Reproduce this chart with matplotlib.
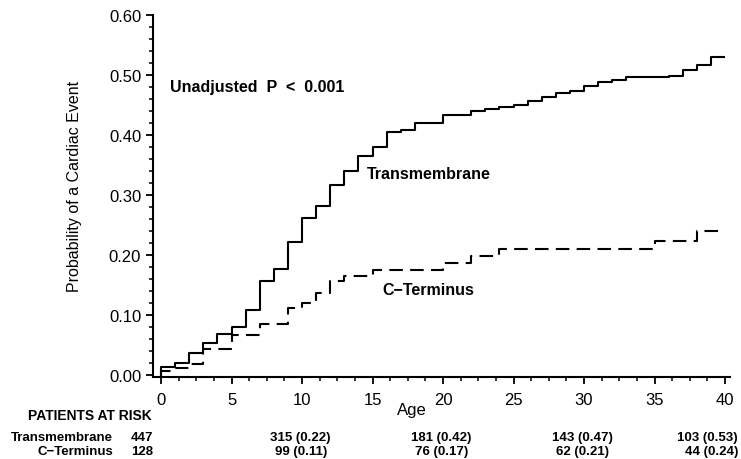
import matplotlib
matplotlib.use("Agg")
import matplotlib.pyplot as plt
import matplotlib.transforms as mtransforms
from matplotlib.ticker import MultipleLocator, FormatStrFormatter

plt.rcParams['font.family'] = ['Liberation Sans', 'DejaVu Sans']

# step start ages and cumulative probability from that age on
tm_ages = [0, 0, 1, 2, 3, 4, 5, 6, 7, 8, 9, 10, 11, 12, 13, 14, 15, 16, 17, 18,
           20, 22, 23, 24, 25, 26, 27, 28, 29, 30, 31, 32, 33, 36, 37, 38, 39, 39.9]
tm_prob = [0.0, 0.013, 0.019, 0.036, 0.053, 0.068, 0.080, 0.108, 0.156, 0.177, 0.221,
           0.262, 0.282, 0.317, 0.339, 0.365, 0.380, 0.405, 0.408, 0.420,
           0.433, 0.440, 0.443, 0.446, 0.450, 0.456, 0.463, 0.470, 0.474, 0.482,
           0.488, 0.492, 0.496, 0.499, 0.509, 0.517, 0.530, 0.530]

ct_ages = [0, 0, 1, 2, 3, 5, 7, 9, 10, 11, 12, 13, 15, 20, 22, 24, 35, 38, 40]
ct_prob = [0.0, 0.006, 0.011, 0.018, 0.043, 0.067, 0.085, 0.111, 0.120, 0.137,
           0.156, 0.165, 0.174, 0.186, 0.198, 0.210, 0.223, 0.240, 0.240]

risk_groups = ['Transmembrane', 'C\u2212Terminus']
risk_ages = [0, 10, 20, 30, 40]
tm_risk = ['447', '315 (0.22)', '181 (0.42)', '143 (0.47)', '103 (0.53)']
ct_risk = ['128', '99 (0.11)', '76 (0.17)', '62 (0.21)', '44 (0.24)']

fig = plt.figure(figsize=(7.41, 4.60), dpi=100)
ax = fig.add_axes([153 / 741, 1 - 377.5 / 460, (730 - 153) / 741, (377.5 - 16) / 460])

ax.step(tm_ages, tm_prob, where='post', color='black', lw=1.5)
ct_line, = ax.step(ct_ages, ct_prob, where='post', color='black', lw=1.5)
ct_line.set_dashes((6.5, 3.5))

ax.set_xlim(-0.57, 40.35)
ax.set_ylim(-0.003, 0.60)
ax.spines['top'].set_visible(False)
ax.spines['right'].set_visible(False)
ax.spines['left'].set_linewidth(1.5)
ax.spines['bottom'].set_linewidth(1.5)

ax.xaxis.set_major_locator(MultipleLocator(5))
ax.xaxis.set_minor_locator(MultipleLocator(1.25))
ax.yaxis.set_major_locator(MultipleLocator(0.10))
ax.yaxis.set_minor_locator(MultipleLocator(0.02))
ax.yaxis.set_major_formatter(FormatStrFormatter('%.2f'))
ax.tick_params(which='major', length=5, width=1.3, labelsize=12)
ax.tick_params(which='minor', length=3, width=1.1)
ax.tick_params(axis='x', which='major', pad=6.5)
ax.tick_params(axis='y', which='major', pad=3.5)

ax.text(0.64, 0.480, 'Unadjusted  P  <  0.001', fontsize=11.5, fontweight='bold',
        ha='left', va='center')
ax.text(14.6, 0.335, 'Transmembrane', fontsize=11.5, fontweight='bold', ha='left', va='center')
ax.text(15.67, 0.142, 'C\u2212Terminus', fontsize=11.5, fontweight='bold', ha='left', va='center')

fig.text(0.1, 1 - 186 / 460, 'Probability of a Cardiac Event', rotation=90,
         fontsize=11.5, ha='center', va='center')
trans = mtransforms.blended_transform_factory(ax.transData, fig.transFigure)
fig.text(17.8, 1 - 411 / 460, 'Age', transform=trans, fontsize=12, ha='center', va='center')

# patients at risk table
fs = 9.5
fig.text(152 / 741, 1 - 416 / 460, 'PATIENTS AT RISK', fontsize=10, fontweight='bold',
         ha='right', va='center')
row_y = [1 - 438 / 460, 1 - 452 / 460]
for name, vals, y in zip(risk_groups, [tm_risk, ct_risk], row_y):
    fig.text(113 / 741, y, name, fontsize=fs, fontweight='bold', ha='right', va='center')
    fig.text(153 / 741, y, vals[0], fontsize=fs, fontweight='bold', ha='right', va='center')
    for age, v in zip(risk_ages[1:4], vals[1:4]):
        fig.text(age - 0.1, y, v, transform=trans, fontsize=fs, fontweight='bold',
                 ha='center', va='center')
    fig.text(738 / 741, y, vals[4], fontsize=fs, fontweight='bold', ha='right', va='center')

fig.savefig('out.png', dpi=100)
